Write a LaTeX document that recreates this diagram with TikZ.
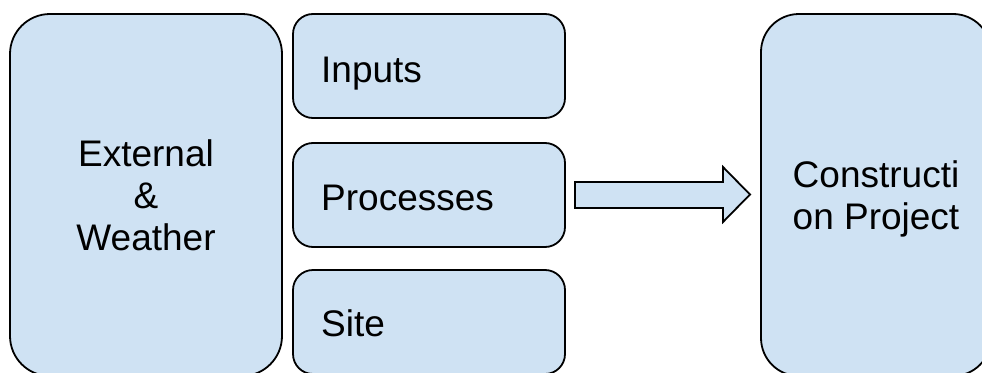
\documentclass[tikz,border=0pt]{standalone}
\usepackage{fontspec}
\setmainfont{Liberation Sans}
\definecolor{boxfill}{HTML}{CFE2F3}
\begin{document}
\begin{tikzpicture}[x=1pt,y=-1pt,
  box/.style={draw=black,fill=boxfill,line width=1.8pt,inner sep=0pt,rectangle},
  lbl/.style={inner sep=0pt,font=\fontsize{37}{42}\selectfont,text=black}]
\useasboundingbox (0,0) rectangle (982,372);
\node[box,rounded corners=40pt,minimum width=272pt,minimum height=362pt] (ext) at (146,195) {};
\node[box,rounded corners=20pt,minimum width=272pt,minimum height=104pt] (inp) at (429,66) {};
\node[box,rounded corners=20pt,minimum width=272pt,minimum height=104pt] (proc) at (429,195) {};
\node[box,rounded corners=20pt,minimum width=272pt,minimum height=104pt] (site) at (429,322) {};
\node[box,rounded corners=38pt,minimum width=230pt,minimum height=362pt] (proj) at (876,195) {};
\node[lbl,align=center] (extt) at (146,195.5) {External\\\&\\Weather};
\node[lbl,anchor=base west] (inpt) at (321,82) {Inputs};
\node[lbl,anchor=base west] (proct) at (321,210) {Processes};
\node[lbl,anchor=base west] (sitet) at (321,336) {Site};
\node[lbl,align=center] (projt) at (876,199) {Constructi\\on Project};
\draw[fill=boxfill,line width=1.8pt,line join=miter]
  (575,182) -- (723,182) -- (723,167) -- (750,194.5) -- (723,222) -- (723,208) -- (575,208) -- cycle;
\end{tikzpicture}
\end{document}
